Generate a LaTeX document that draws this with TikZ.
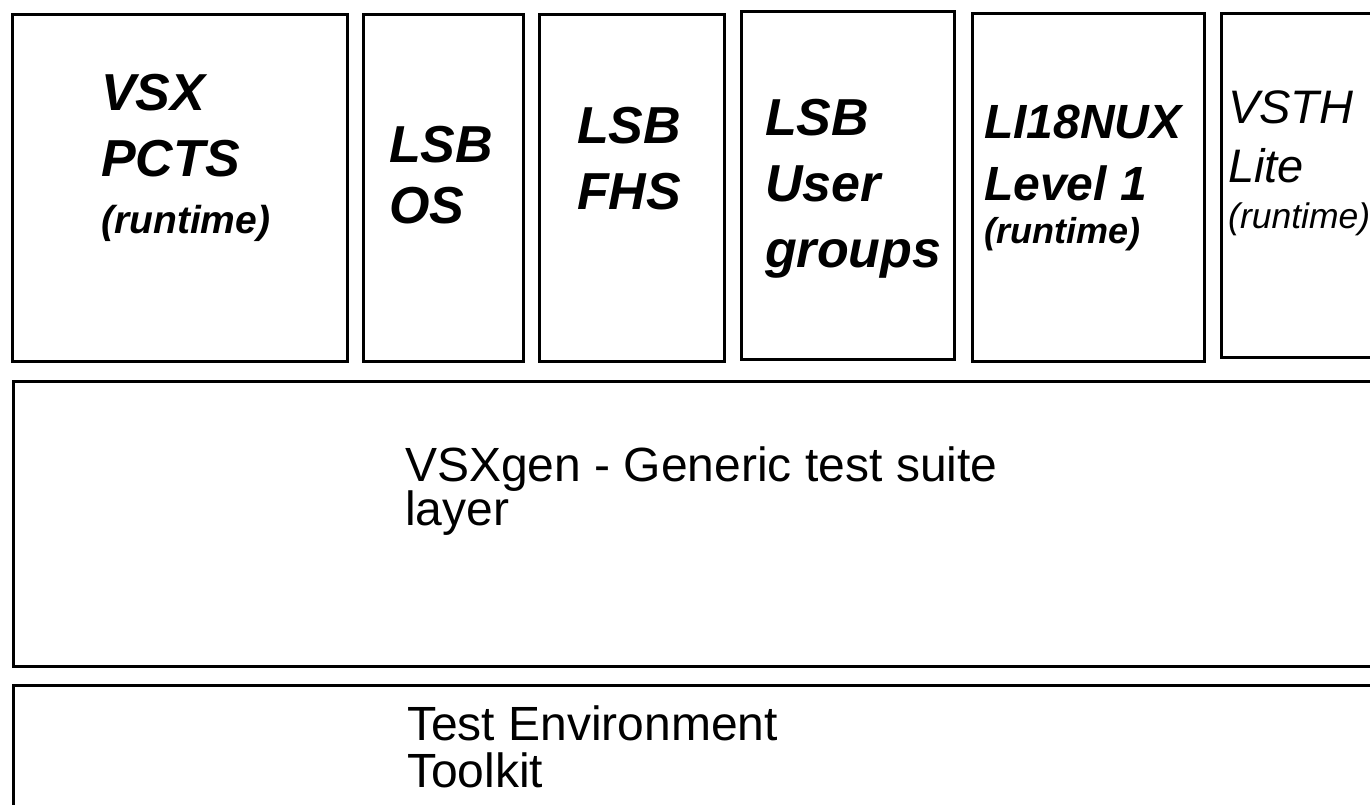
\documentclass[tikz,border=0pt]{standalone}
\usepackage{fontspec}
\setmainfont{Liberation Sans}
\tikzset{
  layer/.style={draw, line width=2.6pt, inner sep=0pt, anchor=north west},
  suite/.style={anchor=base west, align=left, inner sep=0pt,
    font=\fontsize{52}{66}\selectfont\bfseries\itshape},
  plain/.style={anchor=base west, align=left, inner sep=0pt,
    font=\fontsize{48}{44}\selectfont}
}
\newcommand{\runtimetag}[1]{{\fontsize{#1}{#1}\selectfont(runtime)}}

\begin{document}
\begin{tikzpicture}[x=1pt,y=-1pt]
\useasboundingbox (0,0) rectangle (1370,804);
\clip (0,0) rectangle (1370,804);

% top row of test suites
\node[layer, minimum width=335, minimum height=347] (vsx) at (11,13) {};
\node[layer, minimum width=160, minimum height=347] (lsbos) at (362,13) {};
\node[layer, minimum width=185, minimum height=347] (lsbfhs) at (538,13) {};
\node[layer, minimum width=213, minimum height=348] (lsbusr) at (740,10) {};
\node[layer, minimum width=232, minimum height=348] (li18nux) at (971,12) {};
\node[layer, minimum width=200, minimum height=344] (vsth) at (1220,12) {};

% lower layers
\node[layer, minimum width=1400, minimum height=285] (vsxgen) at (12,380) {};
\node[layer, minimum width=1400, minimum height=200] (tet) at (12,684) {};

% labels (base = last line)
\node[suite] (vsxtxt) at (101,233) {VSX\\PCTS\\[-9pt]\runtimetag{39}};
\node[suite] (ostxt) at (389,223) {LSB\\[-5pt]OS};
\node[suite] (fhstxt) at (577,209) {LSB\\FHS};
\node[suite] (usrtxt) at (765,267) {LSB\\User\\groups};
\node[suite, font=\fontsize{48}{62}\selectfont\bfseries\itshape] (li18txt) at (984,243)
  {LI18NUX\\Level 1\\[-19pt]\runtimetag{36}};
\node[suite, font=\fontsize{47}{59}\selectfont\itshape] (vsthtxt) at (1228,228)
  {VSTH\\Lite\\[-13pt]\runtimetag{35.5}};

\node[plain] (gentxt) at (405,525) {VSXgen - Generic test suite\\[-2pt]layer};
\node[plain] (tettxt) at (407,787) {Test Environment\\[3pt]Toolkit};
\end{tikzpicture}
\end{document}
